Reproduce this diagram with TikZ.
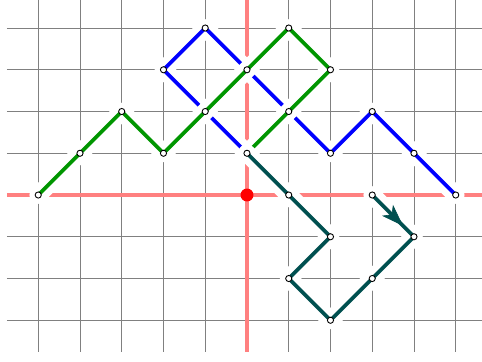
\documentclass[tikz,border=0pt]{standalone}
\usetikzlibrary{arrows.meta}
\usetikzlibrary{decorations.markings}
\definecolor{myblue}{RGB}{0,0,255}
\definecolor{mygreen}{RGB}{0,150,0}
\definecolor{myteal}{RGB}{0,80,80}
\definecolor{myred}{RGB}{255,128,128}

\begin{document}
\begin{tikzpicture}[
  walk/.style={line width=2.5, color=#1,
    preaction={draw=white, line width=12, line cap=round, line join=round}},
  vertex/.style={circle, draw=black, fill=white, line width=0.6, inner sep=0pt, minimum size=4.2pt},
]
\useasboundingbox (-5.916,-3.976) rectangle (5.629,4.671);

\draw[gray, line width=0.6] (-5.75,-3.75) grid (5.75,4.75);
\draw[myred, line width=3] (-5.75,0)--(5.75,0);
\draw[myred, line width=3] (0,-3.75)--(0,4.75);

% the three walks
\draw[walk=myblue] (5,0)--(4,1)--(3,2)--(2,1)--(1,2)--(0,3)--(-1,4)--(-2,3)--(-1,2)--(0,1);
\draw[walk=mygreen] (-5,0)--(-4,1)--(-3,2)--(-2,1)--(-1,2)--(0,3)--(1,4)--(2,3)--(1,2)--(0,1);
\draw[walk=myteal] (3,0)--(4,-1)--(3,-2)--(2,-3)--(1,-2)--(2,-1)--(1,0)--(0,1);
\path[decorate, decoration={markings,
  mark=at position 0.74 with {\arrow[color=myteal]{Stealth[length=15pt, width=10.5pt, inset=4pt]}}}] (3,0)--(4,-1);

\foreach \p [count=\i] in {(5,0),(4,1),(3,2),(2,1),(1,2),(0,3),(-1,4),(-2,3),(-1,2),(0,1),
  (-5,0),(-4,1),(-3,2),(-2,1),(1,4),(2,3),
  (3,0),(4,-1),(3,-2),(2,-3),(1,-2),(2,-1),(1,0)}
  \node[vertex] (v\i) at \p {};

\fill[red] (0,0) circle (0.155);
\end{tikzpicture}
\end{document}
